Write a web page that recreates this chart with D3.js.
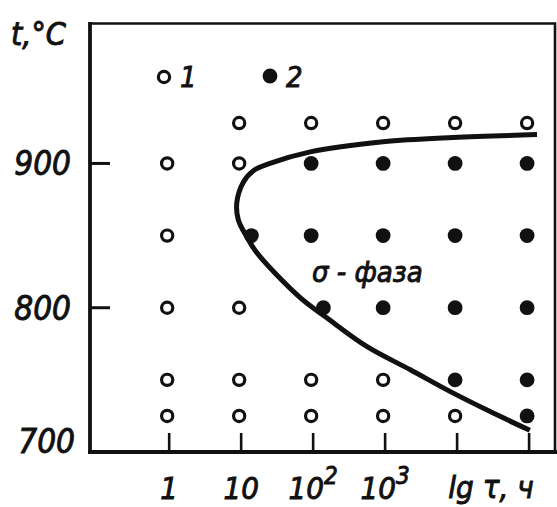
<!DOCTYPE html>
<html>
<head>
<meta charset="utf-8">
<script src="https://cdn.jsdelivr.net/npm/d3@7"></script>
<style>
  html, body { margin: 0; padding: 0; background: #fff; }
  svg { display: block; }
  text { font-family: "DejaVu Sans Condensed", "DejaVu Sans", sans-serif; font-style: italic; fill: #111; stroke: #111; stroke-width: 0.9px; }
</style>
</head>
<body>
<script>
// Exposure time is given as lg τ (τ in hours), temperature in °C.
const xTickValues = [0, 1, 2, 3, 4, 5];
const xTickLabels = [["1", ""], ["10", ""], ["10", "2"], ["10", "3"], ["", ""], ["", ""]];
const yTickValues = [700, 800, 900];
const yTickLabels = ["700", "800", "900"];

// Samples without the σ-phase (open circles, legend 1): [lg τ, t]
const openPoints = [
  [1, 928], [2, 928], [3, 928], [4, 928], [5, 928],
  [0, 900], [1, 900],
  [0, 850],
  [0, 800], [1, 800],
  [0, 750], [1, 750], [2, 750], [3, 750],
  [0, 725], [1, 725], [2, 725], [3, 725], [4, 725]
];
// Samples with the σ-phase (filled circles, legend 2): [lg τ, t]
const filledPoints = [
  [2, 900], [3, 900], [4, 900], [5, 900],
  [1.17, 850], [2, 850], [3, 850], [4, 850], [5, 850],
  [2.17, 800], [3, 800], [4, 800], [5, 800],
  [4, 750], [5, 750],
  [5, 725]
];
// Boundary of the σ-phase region: [lg τ, t]
const boundary = [
  [5.11, 920], [3.94, 918], [2.97, 915], [1.96, 908], [1.40, 900],
  [1.17, 895], [1.03, 887], [0.94, 873], [0.96, 861], [1.08, 849],
  [1.22, 838], [1.82, 807], [2.19, 793], [2.75, 773], [3.35, 757],
  [3.90, 742], [4.46, 728], [5.01, 715]
];

const W = 557, H = 507;
const plotLeft = 90, plotRight = 555, plotTop = 23.5, plotBottom = 452;

const svg = d3.select("body").append("svg").attr("width", W).attr("height", H);

const x = d3.scaleLinear().domain([-1.1, 5.36]).range([plotLeft, plotRight]);
const y = d3.scaleLinear().domain([700, 997]).range([plotBottom, plotTop]);

const ink = "#111";

// frame: top and right border
svg.append("path")
  .attr("d", `M${plotLeft},${plotTop}H${plotRight}V${plotBottom}`)
  .attr("fill", "none").attr("stroke", ink).attr("stroke-width", 2.6);

// axes
svg.append("line").attr("x1", plotLeft).attr("x2", plotLeft).attr("y1", plotTop - 1.5).attr("y2", plotBottom)
  .attr("stroke", ink).attr("stroke-width", 3.8);
svg.append("line").attr("x1", plotLeft - 2).attr("x2", W).attr("y1", plotBottom).attr("y2", plotBottom)
  .attr("stroke", ink).attr("stroke-width", 4);

// x ticks (pointing up into the plot)
svg.append("g").selectAll("line").data(xTickValues).join("line")
  .attr("x1", d => x(d)).attr("x2", d => x(d))
  .attr("y1", plotBottom - 19).attr("y2", plotBottom)
  .attr("stroke", ink).attr("stroke-width", 2.6);

// x tick labels with superscript exponents
const xl = svg.append("g").selectAll("text").data(xTickValues).join("text")
  .attr("x", d => x(d)).attr("y", 499)
  .attr("text-anchor", "middle")
  .attr("font-size", 31);
xl.append("tspan").text((d, i) => xTickLabels[i][0]);
xl.append("tspan").attr("dy", -15).attr("font-size", 24).text((d, i) => xTickLabels[i][1]);

// x axis title
svg.append("text").attr("x", 491).attr("y", 498).attr("text-anchor", "middle")
  .attr("font-size", 31).text("lg τ, ч");

// y ticks (pointing right into the plot)
svg.append("g").selectAll("line").data(yTickValues.filter(v => v > 700)).join("line")
  .attr("x1", plotLeft).attr("x2", plotLeft + 20)
  .attr("y1", d => y(d)).attr("y2", d => y(d))
  .attr("stroke", ink).attr("stroke-width", 3);

svg.append("g").selectAll("text").data(yTickValues).join("text")
  .attr("x", (d) => d === 700 ? 75 : 71)
  .attr("y", d => Math.min(y(d) + 12, plotBottom + 1))
  .attr("text-anchor", "end")
  .attr("font-size", 33)
  .text((d, i) => yTickLabels[i]);

// y axis title
svg.append("text").attr("x", 11).attr("y", 45).attr("font-size", 32).text("t,°C");

// σ-phase boundary
svg.append("path")
  .datum(boundary)
  .attr("d", d3.line().x(d => x(d[0])).y(d => y(d[1])).curve(d3.curveCatmullRom.alpha(0.5)))
  .attr("fill", "none").attr("stroke", ink).attr("stroke-width", 5).attr("stroke-linecap", "butt");

// region label
svg.append("text").attr("x", 312).attr("y", 282).attr("font-size", 29).text("σ - фаза");

// data points
svg.append("g").selectAll("circle").data(openPoints).join("circle")
  .attr("cx", d => x(d[0]) - 2).attr("cy", d => y(d[1]))
  .attr("r", 5.6).attr("fill", "#fff").attr("stroke", ink).attr("stroke-width", 3.2);

svg.append("g").selectAll("circle").data(filledPoints).join("circle")
  .attr("cx", d => x(d[0]) - 2).attr("cy", d => y(d[1]))
  .attr("r", 7.4).attr("fill", ink);

// legend
const legend = svg.append("g");
legend.append("circle").attr("cx", 164).attr("cy", 77).attr("r", 5.6)
  .attr("fill", "#fff").attr("stroke", ink).attr("stroke-width", 3.2);
legend.append("text").attr("x", 180).attr("y", 87).attr("font-size", 29).text("1");
legend.append("circle").attr("cx", 270).attr("cy", 76).attr("r", 7.4).attr("fill", ink);
legend.append("text").attr("x", 286).attr("y", 87).attr("font-size", 29).text("2");
</script>
</body>
</html>
